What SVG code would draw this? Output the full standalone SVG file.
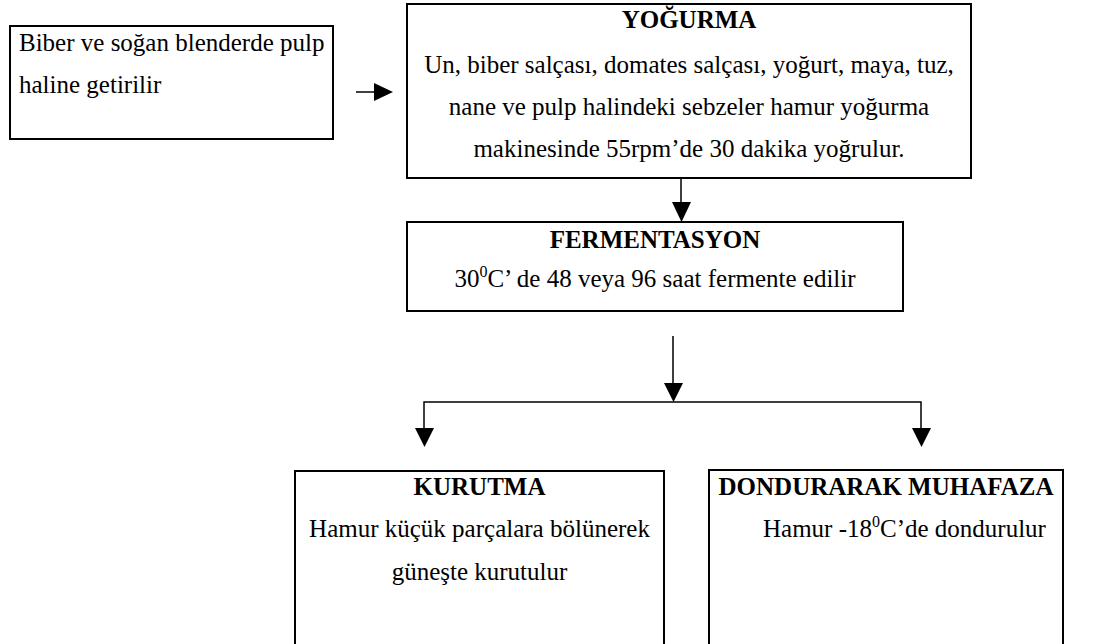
<svg xmlns="http://www.w3.org/2000/svg" width="1094" height="644" viewBox="0 0 1094 644">
<style>
.box{fill:#fff;stroke:#000;stroke-width:2}
.t{font-family:"Liberation Serif","Times New Roman",serif;font-size:25px;fill:#000}
.b{font-weight:bold}
.c{text-anchor:middle}
.ln{stroke:#000;stroke-width:1.5;fill:none}
.ah{fill:#000}
</style>
<rect width="1094" height="644" fill="#fff"/>
<g id="connectors">
<line class="ln" x1="356" y1="92" x2="376" y2="92"/>
<polygon class="ah" points="374,83 393,92 374,101"/>
<line class="ln" x1="681" y1="178" x2="681" y2="205"/>
<polygon class="ah" points="672,202 691,202 681.5,222"/>
<line class="ln" x1="673" y1="336" x2="673" y2="386"/>
<polygon class="ah" points="664,383 683,383 673.5,402"/>
<polyline class="ln" points="424,432 424,402 921,402 921,432"/>
<polygon class="ah" points="415,428 434,428 424.5,447"/>
<polygon class="ah" points="912,428 931,428 921.5,447"/>
</g>
<g id="node-blend">
<rect class="box" x="10" y="26" width="323" height="113"/>
<text class="t" x="19" y="51">Biber ve soğan blenderde pulp</text>
<text class="t" x="19" y="93">haline getirilir</text>
</g>
<g id="node-yogurma">
<rect class="box" x="407" y="4" width="564" height="174"/>
<text class="t b c" x="689" y="28">YOĞURMA</text>
<text class="t c" x="689" y="73">Un, biber salçası, domates salçası, yoğurt, maya, tuz,</text>
<text class="t c" x="689" y="115">nane ve pulp halindeki sebzeler hamur yoğurma</text>
<text class="t c" x="689" y="157">makinesinde 55rpm’de 30 dakika yoğrulur.</text>
</g>
<g id="node-fermentasyon">
<rect class="box" x="407" y="222" width="496" height="89"/>
<text class="t b c" x="655" y="248">FERMENTASYON</text>
<text class="t c" x="655" y="287">30<tspan font-size="16" dy="-10">0</tspan><tspan dy="10">C’ de 48 veya 96 saat fermente edilir</tspan></text>
</g>
<g id="node-kurutma">
<rect class="box" x="295" y="471" width="369" height="200"/>
<text class="t b c" x="479.5" y="495">KURUTMA</text>
<text class="t c" x="479.5" y="537">Hamur küçük parçalara bölünerek</text>
<text class="t c" x="479.5" y="580">güneşte kurutulur</text>
</g>
<g id="node-dondurarak">
<rect class="box" x="709" y="470" width="354" height="200"/>
<text class="t b c" x="886" y="495">DONDURARAK MUHAFAZA</text>
<text class="t" x="763" y="537">Hamur -18<tspan font-size="16" dy="-10">0</tspan><tspan dy="10">C’de dondurulur</tspan></text>
</g>
</svg>
